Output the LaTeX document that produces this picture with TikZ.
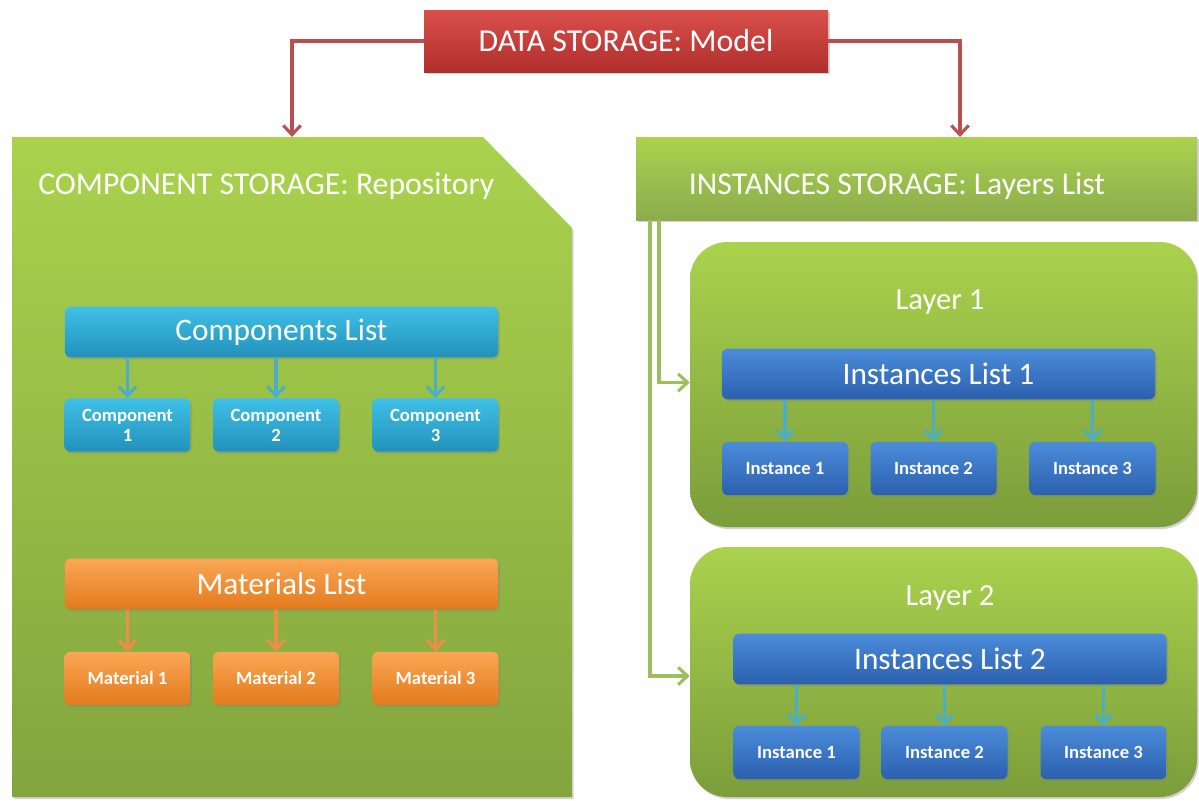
\documentclass[tikz,border=0pt]{standalone}
\usepackage{fontspec}
\setmainfont{Carlito}
\usetikzlibrary{arrows.meta,shadows,calc}

\definecolor{redT}{HTML}{DA4F4B}
\definecolor{redB}{HTML}{B02F2C}
\definecolor{redLine}{HTML}{B9504D}
\definecolor{grnT}{HTML}{AAD24D}
\definecolor{grnB}{HTML}{82A53E}
\definecolor{grnLine}{HTML}{9DBE5C}
\definecolor{cyaT}{HTML}{3FC0E6}
\definecolor{cyaB}{HTML}{2291BC}
\definecolor{bluT}{HTML}{4B8CDA}
\definecolor{bluB}{HTML}{2B60AE}
\definecolor{orgT}{HTML}{FBA755}
\definecolor{orgB}{HTML}{E27A1C}
\definecolor{tealLine}{HTML}{4BAEC8}
\definecolor{orgLine}{HTML}{F08E46}

\begin{document}
\begin{tikzpicture}[x=0.75pt,y=-0.75pt,
  shade/.style={drop shadow={shadow xshift=1.2pt,shadow yshift=-1.5pt,opacity=0.35}},
  box/.style={shade,rounded corners=4.5pt,inner sep=0pt,text=white,align=center},
  redbox/.style={box,rounded corners=0pt,top color=redT,bottom color=redB,
    minimum width=303pt,minimum height=46.5pt,font=\fontsize{23.9}{26}\selectfont},
  bigtitle/.style={text=white,inner sep=0pt,font=\fontsize{23.8}{26}\selectfont},
  layertitle/.style={text=white,inner sep=0pt,font=\fontsize{23}{26}\selectfont},
  bar/.style={box,minimum width=325pt,minimum height=38pt,font=\fontsize{23.5}{25}\selectfont},
  item/.style={box,minimum width=94.5pt,minimum height=40pt,
    font=\bfseries\fontsize{14}{15}\selectfont},
  cyanfill/.style={top color=cyaT,bottom color=cyaB},
  bluefill/.style={top color=bluT,bottom color=bluB},
  orangefill/.style={top color=orgT,bottom color=orgB},
  layerbox/.style={shade,rounded corners=28pt,top color=grnT,bottom color=grnB!95!black,
    minimum width=380.25pt,inner sep=0pt},
  tip/.style={-{Straight Barb[length=7pt,width=13pt,line width=2.3pt]}},
  redarrow/.style={tip,draw=redLine,line width=2.5pt},
  greenarrow/.style={tip,draw=grnLine,line width=2.5pt},
  tealarrow/.style={tip,draw=tealLine,line width=2.8pt},
  orangearrow/.style={tip,draw=orgLine,line width=2.8pt}]

\useasboundingbox[fill=white] (0,0) rectangle (1199,800);

% ---------- top: data storage ----------
\node[redbox] (data) at (626,41) {DATA STORAGE: Model};

% ---------- left: component storage ----------
\path[shade,top color=grnT,bottom color=grnB]
  (12,137) -- (483,137) -- (572,228) -- (572,797) -- (12,797) -- cycle;
\coordinate (cstop) at (292,137);
\node[bigtitle,anchor=west] (cstitle) at (38,186) {COMPONENT STORAGE: Repository};

\node[bar,cyanfill] (clist) at (281.5,332) {Components List};
\node[item,cyanfill] (c1) at (127.5,425) {Component\\1};
\node[item,cyanfill] (c2) at (276,425) {Component\\2};
\node[item,cyanfill] (c3) at (435.5,425) {Component\\3};

\node[bar,orangefill] (mlist) at (281.5,584) {Materials List};
\node[item,orangefill] (m1) at (127.5,678.5) {Material 1};
\node[item,orangefill] (m2) at (276,678.5) {Material 2};
\node[item,orangefill] (m3) at (435.5,678.5) {Material 3};

\foreach \n in {c1,c2,c3}
  \draw[tealarrow] (\n.north |- clist.south) -- (\n.north);
\foreach \n in {m1,m2,m3}
  \draw[orangearrow] (\n.north |- mlist.south) -- (\n.north);

% ---------- right: instances storage ----------
\node[shade,top color=grnT,bottom color=grnB!92!white,inner sep=0pt,
  minimum width=420.75pt,minimum height=62.25pt] (ihdr) at (916.5,178.5) {};
\node[bigtitle] (ititle) at (897,186) {INSTANCES STORAGE: Layers List};

\node[layerbox,minimum height=213.75pt] (layer1) at (943.5,384.5) {};
\node[layertitle] (l1title) at (940,302) {Layer 1};
\node[bar,bluefill] (il1) at (938.5,374) {Instances List 1};
\node[item,bluefill] (a1) at (785,468.5) {Instance 1};
\node[item,bluefill] (a2) at (933.5,468.5) {Instance 2};
\node[item,bluefill] (a3) at (1092.5,468.5) {Instance 3};

\node[layerbox,minimum height=187.5pt] (layer2) at (943.5,672) {};
\node[layertitle] (l2title) at (950,598) {Layer 2};
\node[bar,bluefill] (il2) at (950,659) {Instances List 2};
\node[item,bluefill] (b1) at (796.5,752.5) {Instance 1};
\node[item,bluefill] (b2) at (944.5,752.5) {Instance 2};
\node[item,bluefill] (b3) at (1103.5,752.5) {Instance 3};

\foreach \n in {a1,a2,a3}
  \draw[tealarrow] (\n.north |- il1.south) -- (\n.north);
\foreach \n in {b1,b2,b3}
  \draw[tealarrow] (\n.north |- il2.south) -- (\n.north);

% ---------- connectors ----------
\coordinate (ihtop) at (960,137);
\draw[redarrow] (data.west) -| (cstop);
\draw[redarrow] (data.east) -| (ihtop);

\coordinate (g1) at (650,220);
\coordinate (g2) at (659,220);
\draw[greenarrow] (g1) |- ($(layer2.west)+(0,4)$);
\draw[greenarrow] (g2) |- ($(layer1.west)+(0,-2)$);

\end{tikzpicture}
\end{document}
